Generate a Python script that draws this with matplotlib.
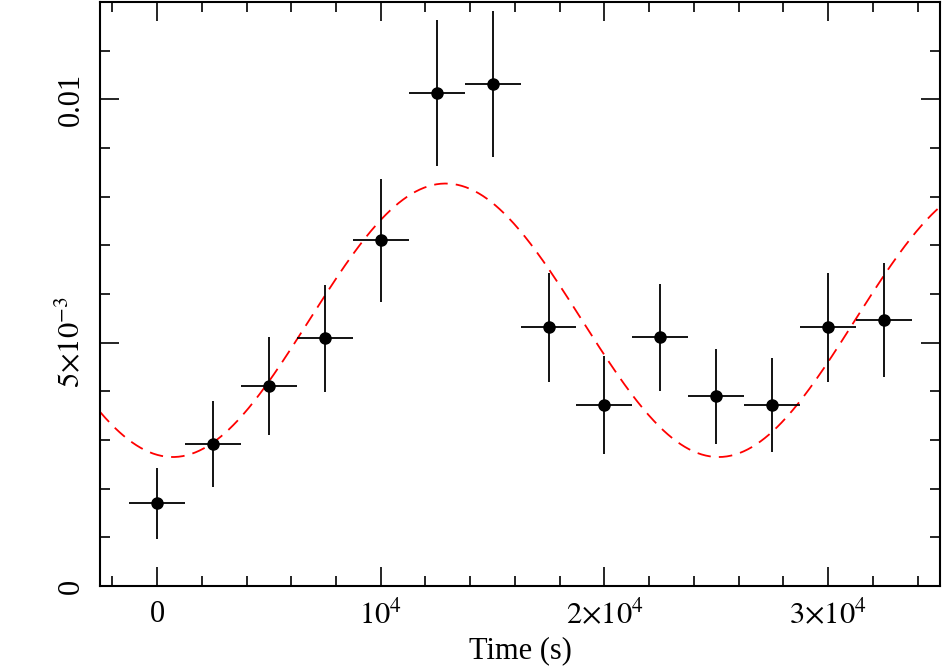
import numpy as np
import matplotlib
matplotlib.use("Agg")
import matplotlib.pyplot as plt
from matplotlib.ticker import FixedLocator, MultipleLocator

plt.rcParams['font.family'] = ['Liberation Serif', 'DejaVu Serif']
plt.rcParams['mathtext.fontset'] = 'stix'

# data
time = [0, 2500, 5000, 7500, 10000, 12500, 15000, 17500, 20000, 22500, 25000, 27500, 30000, 32500]
time_err = [1250] * 14
rate = [1.70e-3, 2.92e-3, 4.11e-3, 5.09e-3, 7.10e-3, 10.12e-3, 10.31e-3,
        5.32e-3, 3.72e-3, 5.11e-3, 3.90e-3, 3.72e-3, 5.32e-3, 5.46e-3]
rate_err = [0.73e-3, 0.88e-3, 1.00e-3, 1.10e-3, 1.27e-3, 1.50e-3, 1.50e-3,
            1.12e-3, 1.00e-3, 1.10e-3, 0.98e-3, 0.97e-3, 1.12e-3, 1.17e-3]

# sinusoidal model parameters (read from the plotted fit)
model_mean = 5.46e-3
model_amp = 2.81e-3
model_period = 24400.0
model_tmin = 700.0

xticks = [0, 10000, 20000, 30000]
xticklabels = ['0', r'$10^{4}$', r'$2{\times}10^{4}$', r'$3{\times}10^{4}$']
yticks = [0, 0.005, 0.01]
yticklabels = ['0', r'$5{\times}10^{-3}$', '0.01']

fig = plt.figure(figsize=(9.43, 6.68), dpi=100)
ax = fig.add_axes([100/943, 1-586/668, 840/943, 584/668])

xlim = (-2550, 35000)
tm = np.linspace(xlim[0], xlim[1], 600)
model = model_mean - model_amp * np.cos(2*np.pi*(tm - model_tmin)/model_period)
ax.plot(tm, model, color='red', lw=1.3, dashes=(7.5, 4.5))

ax.errorbar(time, rate, xerr=time_err, yerr=rate_err, fmt='o', color='black',
            ms=8, elinewidth=1.3, capsize=0)

ax.set_xlim(*xlim)
ax.set_ylim(0, 0.012)
ax.xaxis.set_major_locator(FixedLocator(xticks))
ax.set_xticklabels(xticklabels)
ax.xaxis.set_minor_locator(MultipleLocator(2000))
ax.yaxis.set_major_locator(FixedLocator(yticks))
ax.set_yticklabels(yticklabels, rotation=90, va='center')
ax.yaxis.set_minor_locator(MultipleLocator(0.001))

ax.tick_params(which='both', direction='in', top=True, right=True, width=1.2, labelsize=22)
ax.tick_params(which='major', length=14)
ax.tick_params(which='minor', length=7.5)
ax.tick_params(axis='x', pad=10)
ax.tick_params(axis='y', pad=10)
for s in ax.spines.values():
    s.set_linewidth(1.5)

ax.set_xlabel('Time (s)', fontsize=22, labelpad=4)

fig.savefig('out.png', dpi=100)
